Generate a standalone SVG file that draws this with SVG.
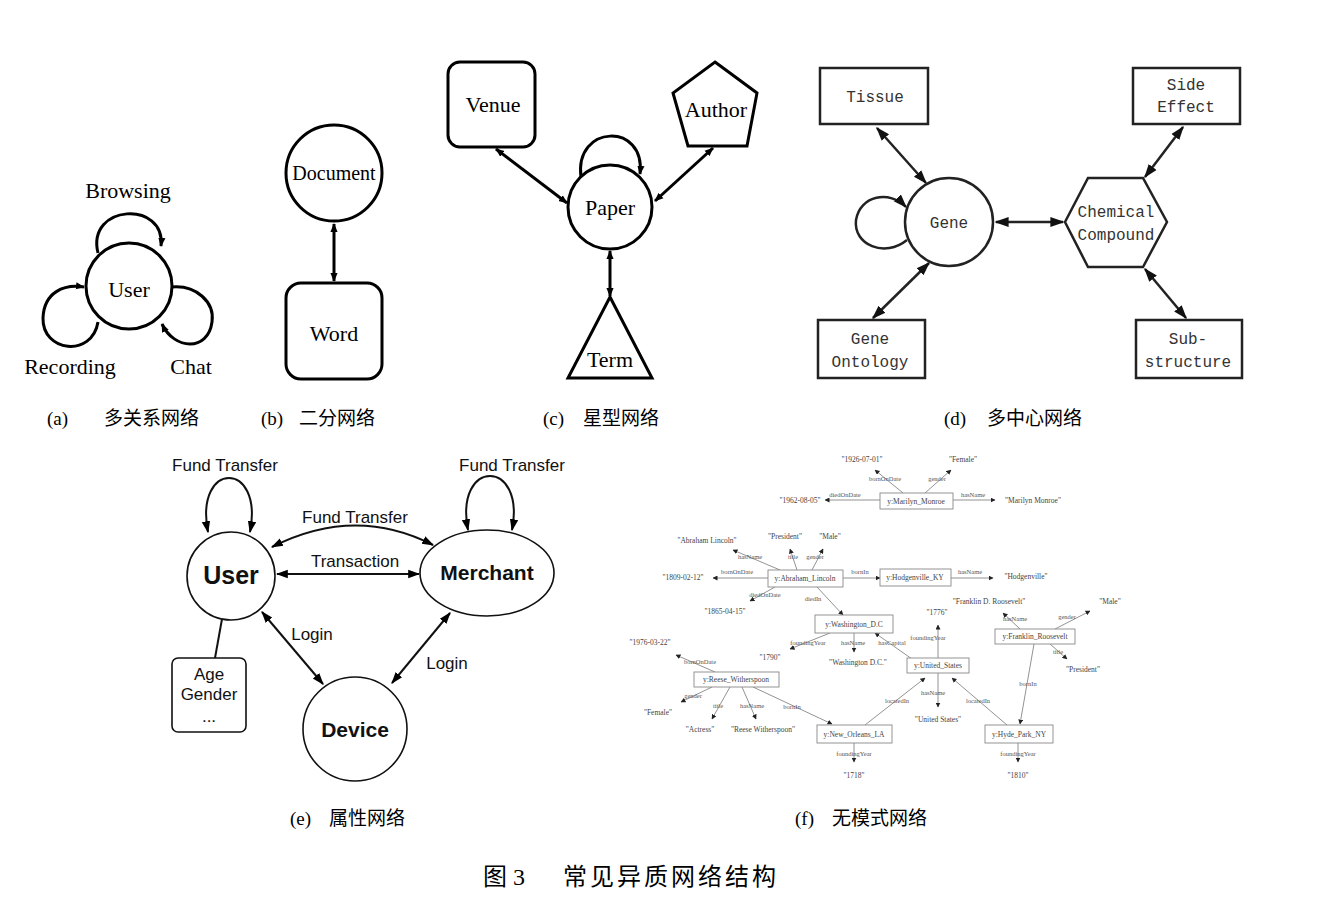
<svg xmlns="http://www.w3.org/2000/svg" width="1322" height="917" viewBox="0 0 1322 917">
<style>
.ser{font-family:"Liberation Serif","Times New Roman",serif;fill:#000}
.t20{font-size:22px;text-anchor:middle}
.mono{font-family:"Liberation Mono","Courier New",monospace;font-size:16px;fill:#333;text-anchor:middle}
.sans{font-family:"Liberation Sans",Arial,sans-serif;fill:#111;text-anchor:middle}
.b{font-weight:bold}
.cap{font-family:"Liberation Serif","Noto Sans CJK SC",serif;font-size:19px;fill:#000}
.cjk{font-family:"Noto Sans CJK SC","Liberation Serif",sans-serif;font-size:19px;fill:#000}
.ttl{font-size:24px}
.s3{fill:none;stroke:#000;stroke-width:3}
.sd{fill:none;stroke:#222;stroke-width:2.5}
.se{fill:none;stroke:#111;stroke-width:2}
.nf{fill:#fff;stroke:#000;stroke-width:3}
.nd{fill:#fff;stroke:#222;stroke-width:2.5}
.ne{fill:#fff;stroke:#111;stroke-width:1.6}
.fb{fill:#fff;stroke:#888;stroke-width:0.9}
.fe{fill:none;stroke:#777;stroke-width:0.8}
.ft{font-family:"Liberation Serif","Times New Roman",serif;font-size:7.5px;fill:#444;text-anchor:middle}
.fl{font-family:"Liberation Serif","Times New Roman",serif;font-size:6.5px;fill:#555;text-anchor:middle}
</style>
<defs>
<marker id="m1" viewBox="0 0 10 10" refX="9" refY="5" markerWidth="9" markerHeight="9" markerUnits="userSpaceOnUse" orient="auto-start-reverse"><path d="M0,1 L10,5 L0,9 z" fill="#000"/></marker>
<marker id="m2" viewBox="0 0 10 10" refX="9" refY="5" markerWidth="14" markerHeight="14" markerUnits="userSpaceOnUse" orient="auto-start-reverse"><path d="M0,1.5 L10,5 L0,8.5 z" fill="#111"/></marker>
<marker id="m3" viewBox="0 0 10 10" refX="9" refY="5" markerWidth="12" markerHeight="12" markerUnits="userSpaceOnUse" orient="auto-start-reverse"><path d="M0,1.5 L10,5 L0,8.5 z" fill="#000"/></marker>
<marker id="m4" viewBox="0 0 10 10" refX="9" refY="5" markerWidth="5" markerHeight="5" markerUnits="userSpaceOnUse" orient="auto-start-reverse"><path d="M0,0 L10,5 L0,10 z" fill="#222"/></marker>
</defs>
<rect width="1322" height="917" fill="#fff"/>

<!-- connectors -->
<g id="connectors">
  <!-- (a) -->
  <path class="s3" d="M98 253 C86 204 166 200 161 246" marker-end="url(#m1)"/>
  <path class="s3" d="M98 322 C92 358 42 352 43 318 C44 292 64 284 84 287" marker-end="url(#m1)"/>
  <path class="s3" d="M172 287 C196 285 215 302 212 322 C208 352 174 350 162 324" marker-end="url(#m1)"/>
  <!-- (b) -->
  <path class="s3" d="M334 224 L334 281" marker-start="url(#m1)" marker-end="url(#m1)"/>
  <!-- (c) -->
  <path class="s3" d="M581 177 C574 124 646 122 640 174" marker-end="url(#m1)"/>
  <path class="s3" d="M496 149 L567 203" marker-start="url(#m1)" marker-end="url(#m1)"/>
  <path class="s3" d="M713 148 L655 201" marker-start="url(#m1)" marker-end="url(#m1)"/>
  <path class="s3" d="M610 251 L610 296" marker-start="url(#m1)" marker-end="url(#m1)"/>
  <!-- (d) -->
  <path class="sd" d="M906 207 C890 190 860 195 856 220 C853 245 885 258 907 240" marker-start="url(#m2)"/>
  <path class="sd" d="M877 128 L926 183" marker-start="url(#m2)" marker-end="url(#m2)"/>
  <path class="sd" d="M1183 127 L1145 177" marker-start="url(#m2)" marker-end="url(#m2)"/>
  <path class="sd" d="M996 222 L1063 222" marker-start="url(#m2)" marker-end="url(#m2)"/>
  <path class="sd" d="M929 263 L873 318" marker-start="url(#m2)" marker-end="url(#m2)"/>
  <path class="sd" d="M1145 269 L1186 318" marker-start="url(#m2)" marker-end="url(#m2)"/>
  <!-- (e) -->
  <path class="se" d="M208 532 C194 460 264 460 250 532" marker-start="url(#m3)" marker-end="url(#m3)"/>
  <path class="se" d="M468 530 C454 458 526 458 512 530" marker-start="url(#m3)" marker-end="url(#m3)"/>
  <path class="se" d="M272 547 Q355 505 433 545" marker-start="url(#m3)" marker-end="url(#m3)"/>
  <path class="se" d="M277 574 L419 574" marker-start="url(#m3)" marker-end="url(#m3)"/>
  <path class="se" d="M262 612 L323 684" marker-start="url(#m3)" marker-end="url(#m3)"/>
  <path class="se" d="M450 613 L392 683" marker-start="url(#m3)" marker-end="url(#m3)"/>
  <path class="se" d="M222 619 L215 658"/>
  <!-- (f) -->
  <g>
    <path class="fe" d="M903 493 L875 470" marker-end="url(#m4)"/>
    <path class="fe" d="M925 493 L951 470" marker-end="url(#m4)"/>
    <path class="fe" d="M880 500 L825 500" marker-end="url(#m4)"/>
    <path class="fe" d="M953 500 L995 500" marker-end="url(#m4)"/>
    <path class="fe" d="M780 570 L733 550" marker-end="url(#m4)"/>
    <path class="fe" d="M797 570 L790 549" marker-end="url(#m4)"/>
    <path class="fe" d="M812 570 L823 549" marker-end="url(#m4)"/>
    <path class="fe" d="M768 578 L713 578" marker-end="url(#m4)"/>
    <path class="fe" d="M775 587 L750 601" marker-end="url(#m4)"/>
    <path class="fe" d="M843 578 L880 578" marker-end="url(#m4)"/>
    <path class="fe" d="M817 587 L843 615" marker-end="url(#m4)"/>
    <path class="fe" d="M951 578 L993 578" marker-end="url(#m4)"/>
    <path class="fe" d="M830 633 L790 649" marker-end="url(#m4)"/>
    <path class="fe" d="M854 633 L854 652" marker-end="url(#m4)"/>
    <path class="fe" d="M912 659 L875 633" marker-end="url(#m4)"/>
    <path class="fe" d="M938 658 L938 625" marker-end="url(#m4)"/>
    <path class="fe" d="M938 673 L938 707" marker-end="url(#m4)"/>
    <path class="fe" d="M865 725 L925 678" marker-end="url(#m4)"/>
    <path class="fe" d="M1007 725 L952 678" marker-end="url(#m4)"/>
    <path class="fe" d="M1020 629 L1003 613" marker-end="url(#m4)"/>
    <path class="fe" d="M1055 629 L1090 611" marker-end="url(#m4)"/>
    <path class="fe" d="M1050 644 L1067 659" marker-end="url(#m4)"/>
    <path class="fe" d="M1034 644 L1020 724" marker-end="url(#m4)"/>
    <path class="fe" d="M715 672 L676 655" marker-end="url(#m4)"/>
    <path class="fe" d="M712 687 L681 702" marker-end="url(#m4)"/>
    <path class="fe" d="M730 687 L712 719" marker-end="url(#m4)"/>
    <path class="fe" d="M742 687 L756 719" marker-end="url(#m4)"/>
    <path class="fe" d="M753 687 L832 724" marker-end="url(#m4)"/>
    <path class="fe" d="M854 743 L854 762" marker-end="url(#m4)"/>
    <path class="fe" d="M1018 743 L1018 762" marker-end="url(#m4)"/>
  </g>
</g>

<!-- (a) -->
<g id="a-user"><circle class="nf" cx="129" cy="286" r="43"/><text class="ser t20" x="129" y="297">User</text></g>
<g id="a-labels">
  <text class="ser t20" x="128" y="198">Browsing</text>
  <text class="ser t20" x="70" y="374">Recording</text>
  <text class="ser t20" x="191" y="374">Chat</text>
</g>

<!-- (b) -->
<g id="b-document"><circle class="nf" cx="334" cy="173" r="48"/><text class="ser t20" x="334" y="180" style="font-size:20px">Document</text></g>
<g id="b-word"><rect class="nf" x="286" y="283" width="96" height="96" rx="15"/><text class="ser t20" x="334" y="341">Word</text></g>

<!-- (c) -->
<g id="c-venue"><rect class="nf" x="448" y="62" width="87" height="85" rx="12"/><text class="ser t20" x="493" y="112">Venue</text></g>
<g id="c-author"><polygon class="nf" points="715,62 757,93 747,146 688,146 673,93"/><text class="ser t20" x="716" y="117">Author</text></g>
<g id="c-paper"><circle class="nf" cx="610" cy="207" r="42"/><text class="ser t20" x="610" y="215">Paper</text></g>
<g id="c-term"><polygon class="nf" points="610,297 652,378 568,378"/><text class="ser t20" x="610" y="367">Term</text></g>

<!-- (d) -->
<g id="d-tissue"><rect class="nd" x="820" y="68" width="108" height="56"/><text class="mono" x="875" y="102">Tissue</text></g>
<g id="d-side"><rect class="nd" x="1133" y="68" width="107" height="56"/><text class="mono" x="1186" y="90">Side</text><text class="mono" x="1186" y="112">Effect</text></g>
<g id="d-gene"><circle class="nd" cx="949" cy="222" r="44"/><text class="mono" x="949" y="228">Gene</text></g>
<g id="d-chem"><polygon class="nd" points="1065,222 1088,178 1143,178 1167,222 1143,267 1088,267"/><text class="mono" x="1116" y="217">Chemical</text><text class="mono" x="1116" y="240">Compound</text></g>
<g id="d-go"><rect class="nd" x="818" y="320" width="107" height="58"/><text class="mono" x="870" y="344">Gene</text><text class="mono" x="870" y="367">Ontology</text></g>
<g id="d-sub"><rect class="nd" x="1136" y="320" width="106" height="58"/><text class="mono" x="1188" y="344">Sub-</text><text class="mono" x="1188" y="367">structure</text></g>

<!-- (e) -->
<g id="e-user"><circle class="ne" cx="231" cy="576" r="44"/><text class="sans b" x="231" y="584" font-size="25">User</text></g>
<g id="e-merchant"><ellipse class="ne" cx="487" cy="573" rx="67" ry="43"/><text class="sans b" x="487" y="580" font-size="21">Merchant</text></g>
<g id="e-device"><circle class="ne" cx="355" cy="729" r="52"/><text class="sans b" x="355" y="737" font-size="21">Device</text></g>
<g id="e-attr"><rect class="ne" x="172" y="658" width="74" height="74" rx="6"/>
  <text class="sans" x="209" y="680" font-size="17">Age</text>
  <text class="sans" x="209" y="700" font-size="17">Gender</text>
  <text class="sans" x="209" y="722" font-size="17">...</text></g>
<g id="e-labels">
  <text class="sans" x="225" y="471" font-size="17">Fund Transfer</text>
  <text class="sans" x="512" y="471" font-size="17">Fund Transfer</text>
  <text class="sans" x="355" y="523" font-size="17">Fund Transfer</text>
  <text class="sans" x="355" y="567" font-size="17">Transaction</text>
  <text class="sans" x="312" y="640" font-size="17">Login</text>
  <text class="sans" x="447" y="669" font-size="17">Login</text>
</g>

<!-- (f) -->
<g id="f-marilyn"><rect class="fb" x="880" y="493" width="73" height="16"/><text class="ft" x="916" y="504">y:Marilyn_Monroe</text></g>
<g id="f-lincoln"><rect class="fb" x="768" y="570" width="75" height="17"/><text class="ft" x="805" y="581">y:Abraham_Lincoln</text></g>
<g id="f-hodgenville"><rect class="fb" x="880" y="569" width="71" height="17"/><text class="ft" x="915" y="580">y:Hodgenville_KY</text></g>
<g id="f-washington"><rect class="fb" x="815" y="615" width="78" height="18"/><text class="ft" x="854" y="627">y:Washington_D.C</text></g>
<g id="f-roosevelt"><rect class="fb" x="995" y="629" width="80" height="15"/><text class="ft" x="1035" y="639">y:Franklin_Roosevelt</text></g>
<g id="f-us"><rect class="fb" x="907" y="658" width="62" height="15"/><text class="ft" x="938" y="668">y:United_States</text></g>
<g id="f-reese"><rect class="fb" x="694" y="672" width="85" height="15"/><text class="ft" x="736" y="682">y:Reese_Witherspoon</text></g>
<g id="f-neworleans"><rect class="fb" x="817" y="725" width="75" height="18"/><text class="ft" x="854" y="737">y:New_Orleans_LA</text></g>
<g id="f-hydepark"><rect class="fb" x="985" y="725" width="68" height="18"/><text class="ft" x="1019" y="737">y:Hyde_Park_NY</text></g>
<g id="f-literals">
  <text class="ft" x="862" y="462">"1926-07-01"</text>
  <text class="ft" x="963" y="462">"Female"</text>
  <text class="ft" x="800" y="503">"1962-08-05"</text>
  <text class="ft" x="1033" y="503">"Marilyn Monroe"</text>
  <text class="ft" x="707" y="543">"Abraham Lincoln"</text>
  <text class="ft" x="785" y="539">"President"</text>
  <text class="ft" x="830" y="539">"Male"</text>
  <text class="ft" x="683" y="580">"1809-02-12"</text>
  <text class="ft" x="725" y="614">"1865-04-15"</text>
  <text class="ft" x="1026" y="579">"Hodgenville"</text>
  <text class="ft" x="989" y="604">"Franklin D. Roosevelt"</text>
  <text class="ft" x="1110" y="604">"Male"</text>
  <text class="ft" x="1083" y="672">"President"</text>
  <text class="ft" x="937" y="615">"1776"</text>
  <text class="ft" x="770" y="660">"1790"</text>
  <text class="ft" x="858" y="665">"Washington D.C."</text>
  <text class="ft" x="938" y="722">"United States"</text>
  <text class="ft" x="650" y="645">"1976-03-22"</text>
  <text class="ft" x="658" y="715">"Female"</text>
  <text class="ft" x="700" y="732">"Actress"</text>
  <text class="ft" x="763" y="732">"Reese Witherspoon"</text>
  <text class="ft" x="854" y="778">"1718"</text>
  <text class="ft" x="1018" y="778">"1810"</text>
</g>
<g id="f-edgelabels">
  <text class="fl" x="885" y="481">bornOnDate</text>
  <text class="fl" x="937" y="481">gender</text>
  <text class="fl" x="845" y="497">diedOnDate</text>
  <text class="fl" x="973" y="497">hasName</text>
  <text class="fl" x="750" y="559">hasName</text>
  <text class="fl" x="793" y="559">title</text>
  <text class="fl" x="815" y="559">gender</text>
  <text class="fl" x="737" y="574">bornOnDate</text>
  <text class="fl" x="765" y="597">diedOnDate</text>
  <text class="fl" x="860" y="574">bornIn</text>
  <text class="fl" x="813" y="601">diedIn</text>
  <text class="fl" x="970" y="574">hasName</text>
  <text class="fl" x="808" y="645">foundingYear</text>
  <text class="fl" x="853" y="645">hasName</text>
  <text class="fl" x="892" y="645">hasCapital</text>
  <text class="fl" x="928" y="640">foundingYear</text>
  <text class="fl" x="933" y="695">hasName</text>
  <text class="fl" x="897" y="703">locatedIn</text>
  <text class="fl" x="978" y="703">locatedIn</text>
  <text class="fl" x="1015" y="621">hasName</text>
  <text class="fl" x="1067" y="619">gender</text>
  <text class="fl" x="1058" y="654">title</text>
  <text class="fl" x="1028" y="686">bornIn</text>
  <text class="fl" x="700" y="664">bornOnDate</text>
  <text class="fl" x="693" y="698">gender</text>
  <text class="fl" x="718" y="708">title</text>
  <text class="fl" x="752" y="708">hasName</text>
  <text class="fl" x="792" y="709">bornIn</text>
  <text class="fl" x="854" y="756">foundingYear</text>
  <text class="fl" x="1018" y="756">foundingYear</text>
</g>

<!-- captions -->
<g id="captions">
  <text class="cap" x="47" y="425">(a)</text><text class="cjk" x="104" y="425">多关系网络</text>
  <text class="cap" x="261" y="425">(b)</text><text class="cjk" x="299" y="425">二分网络</text>
  <text class="cap" x="543" y="425">(c)</text><text class="cjk" x="583" y="425">星型网络</text>
  <text class="cap" x="944" y="425">(d)</text><text class="cjk" x="987" y="425">多中心网络</text>
  <text class="cap" x="290" y="825">(e)</text><text class="cjk" x="329" y="825">属性网络</text>
  <text class="cap" x="795" y="825">(f)</text><text class="cjk" x="832" y="825">无模式网络</text>
  <text class="cjk ttl" x="483" y="885">图</text><text class="cap ttl" x="513" y="885">3</text>
  <text class="cjk ttl" x="563" y="885" letter-spacing="3">常见异质网络结构</text>
</g>
</svg>
